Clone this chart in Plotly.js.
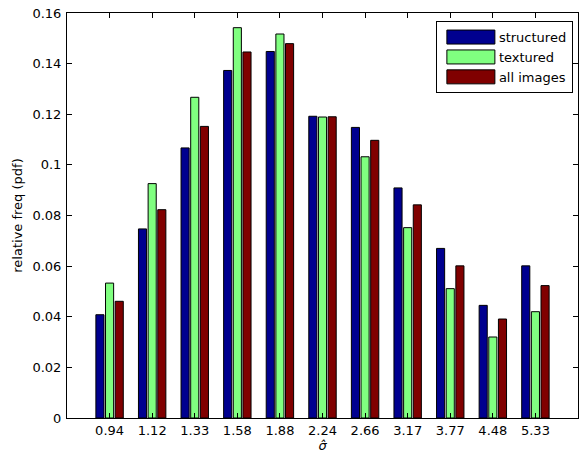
<!DOCTYPE html>
<html>
<head>
<meta charset="utf-8">
<script src="https://cdn.plot.ly/plotly-3.0.1.min.js"></script>
<style>html,body{margin:0;padding:0;background:#fff;}#chart{width:579px;height:456px;}</style>
</head>
<body>
<div id="chart"></div>
<script>
const categories = ["0.94","1.12","1.33","1.58","1.88","2.24","2.66","3.17","3.77","4.48","5.33"];
const structured = [0.0408,0.0747,0.1067,0.1373,0.1448,0.1192,0.1148,0.0909,0.0670,0.0445,0.0601];
const textured   = [0.0533,0.0926,0.1267,0.1542,0.1517,0.1189,0.1032,0.0752,0.0511,0.0320,0.0420];
const allImages  = [0.0461,0.0823,0.1152,0.1446,0.1479,0.1190,0.1097,0.0842,0.0601,0.0391,0.0523];
const yTickVals  = [0,0.02,0.04,0.06,0.08,0.1,0.12,0.14,0.16];
const yTickText  = ["0","0.02","0.04","0.06","0.08","0.1","0.12","0.14","0.16"];

const FONT = "DejaVu Sans, Liberation Sans, Arial, sans-serif";
function series(name, y, color){
  return {type:"bar", name:name, x:categories, y:y,
    marker:{color:color, line:{color:"#000", width:1}}};
}
const data = [
  series("structured", structured, "#00008F"),
  series("textured", textured, "#80FF80"),
  series("all images", allImages, "#800000")
];
const layout = {
  width:579, height:456,
  margin:{l:67, r:1, t:13, b:38},
  paper_bgcolor:"#fff", plot_bgcolor:"#fff",
  font:{family:FONT, size:12, color:"#000"},
  barmode:"group", bargap:0.32, bargroupgap:0.16,
  showlegend:true,
  legend:{x:0.99, y:0.98, xanchor:"right", yanchor:"top",
    bordercolor:"#000", borderwidth:1, bgcolor:"#fff", itemwidth:52,
    font:{family:FONT, size:13}, tracegroupgap:0},
  xaxis:{type:"category", range:[-1,11], showline:true, linecolor:"#000", linewidth:1,
    mirror:"ticks", ticks:"inside", ticklen:5, tickcolor:"#000",
    tickfont:{family:FONT, size:13}, showgrid:false, zeroline:false,
    title:{text:"<i>σ̂</i>", font:{family:FONT, size:13}, standoff:4}},
  yaxis:{range:[0,0.16], tickvals:yTickVals, ticktext:yTickText,
    showline:true, linecolor:"#000", linewidth:1,
    mirror:"ticks", ticks:"inside", ticklen:5, tickcolor:"#000",
    tickfont:{family:FONT, size:13}, showgrid:false, zeroline:false,
    ticklabelstandoff:2,
    title:{text:"relative freq (pdf)", font:{family:FONT, size:13}, standoff:6}}
};
Plotly.newPlot("chart", data, layout, {displayModeBar:false, staticPlot:true}).then(function(gd){
  // widen legend swatches to MATLAB-style rectangles
  gd.querySelectorAll(".legend .traces").forEach(function(tr){
    const txt = tr.querySelector(".legendtext");
    const p = tr.querySelector(".legendpoints path");
    if(!txt || !p) return;
    const tl = txt.getBoundingClientRect().left;
    const pr = p.getBoundingClientRect();
    const cx = (pr.left + pr.right) / 2;
    const right = tl - 4 - cx, left = right - 48;
    p.setAttribute("d", "M" + left + ",7H" + right + "V-7H" + left + "Z");
  });
});
</script>
</body>
</html>
